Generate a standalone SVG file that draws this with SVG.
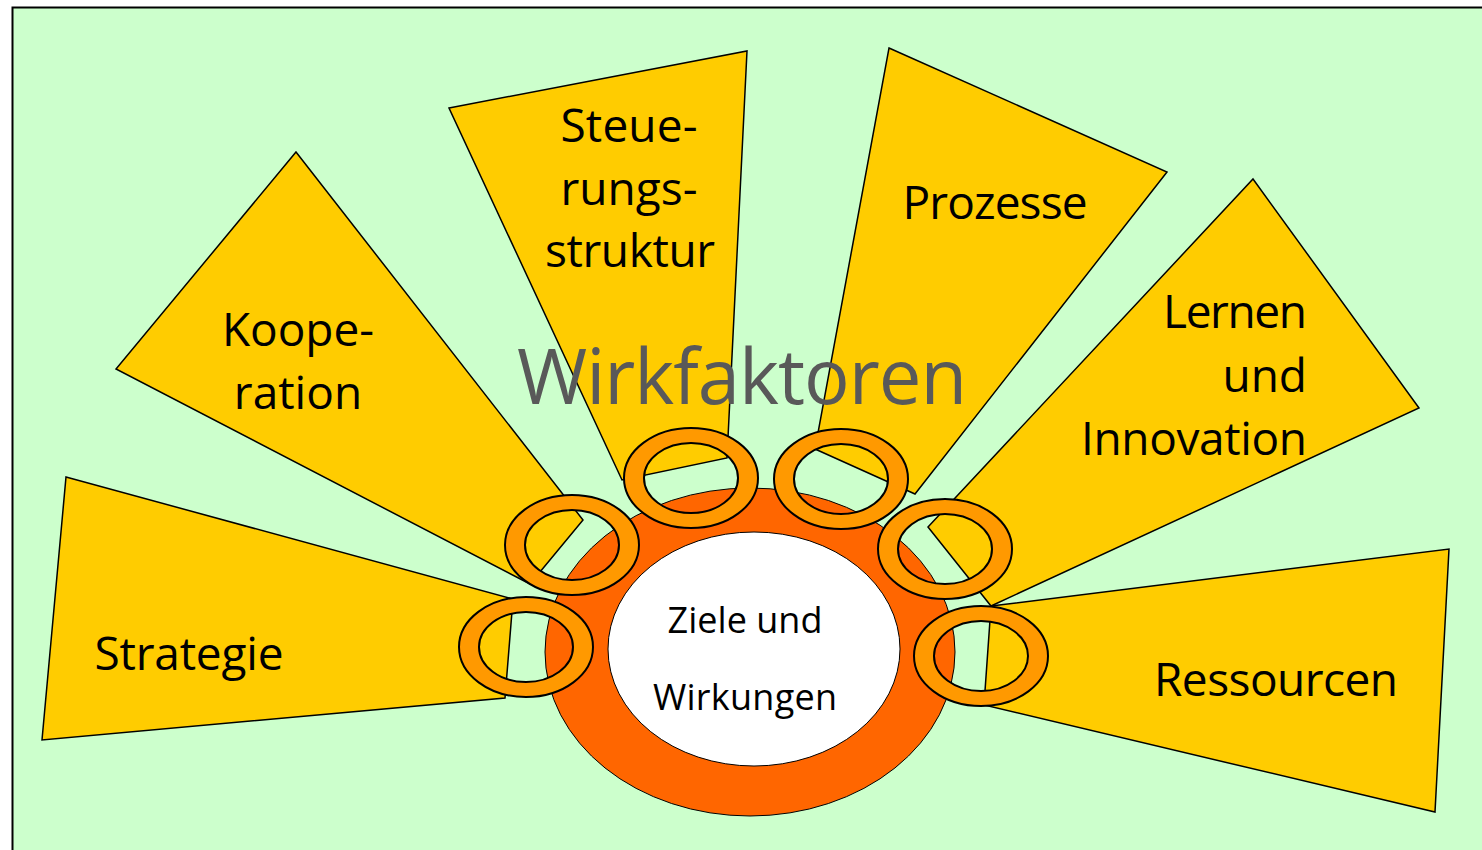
<svg xmlns="http://www.w3.org/2000/svg" xmlns:xlink="http://www.w3.org/1999/xlink" width="1482" height="850" viewBox="0 0 1482 850">
  <style>
    .wedge { fill: #FFCC00; stroke: #000; stroke-width: 1.5; stroke-linejoin: miter; }
    .lbl { font-family: "Open Sans", "Noto Sans", "Liberation Sans", sans-serif; font-size: 46px; fill: #000; }
    .core { font-family: "Open Sans", "Noto Sans", "Liberation Sans", sans-serif; font-size: 36px; fill: #000; text-anchor: middle; }
    .title { font-family: "Open Sans", "Noto Sans", "Liberation Sans", sans-serif; font-size: 76px; fill: #595959; }
    .ring { fill: #FF9900; fill-rule: evenodd; stroke: #000; stroke-width: 2; }
  </style>
  <defs>
    <!-- orange link ring, centred on the origin -->
    <path id="ring" class="ring" d="M -67,0 a 67,50 0 1,0 134,0 a 67,50 0 1,0 -134,0 Z M -47,0 a 47,35 0 1,0 94,0 a 47,35 0 1,0 -94,0 Z"/>
  </defs>

  <!-- canvas -->
  <rect x="12.5" y="7.5" width="1490" height="860" fill="#CCFFCC" stroke="#000" stroke-width="2"/>

  <!-- factor wedges -->
  <g id="strategie">
    <polygon class="wedge" points="66,477 513,599 505,698 42,740"/>
    <text class="lbl" x="189" y="670" text-anchor="middle" textLength="189">Strategie</text>
  </g>
  <g id="kooperation">
    <polygon class="wedge" points="296,152 583,520 530,584 116,369"/>
    <text class="lbl" x="298" y="346" text-anchor="middle" textLength="152">Koope-</text>
    <text class="lbl" x="298" y="409" text-anchor="middle">ration</text>
  </g>
  <g id="steuerungsstruktur">
    <polygon class="wedge" points="449,108 747,51 727,458 622,480"/>
    <text class="lbl" x="629" y="142" text-anchor="middle" textLength="137">Steue-</text>
    <text class="lbl" x="629" y="205" text-anchor="middle">rungs-</text>
    <text class="lbl" x="630" y="267" text-anchor="middle" textLength="170">struktur</text>
  </g>
  <g id="prozesse">
    <polygon class="wedge" points="889,48 1167,172 915,494 815,449"/>
    <text class="lbl" x="995" y="219" text-anchor="middle" textLength="185">Prozesse</text>
  </g>
  <g id="lernen">
    <polygon class="wedge" points="1253,179 1419,408 991,606 928,527"/>
    <text class="lbl" x="1307" y="328" text-anchor="end" textLength="144">Lernen</text>
    <text class="lbl" x="1307" y="392" text-anchor="end">und</text>
    <text class="lbl" x="1307" y="455" text-anchor="end" textLength="226">Innovation</text>
  </g>
  <g id="ressourcen">
    <polygon class="wedge" points="991,606 1449,549 1435,812 984,705"/>
    <text class="lbl" x="1276" y="696" text-anchor="middle" textLength="244">Ressourcen</text>
  </g>

  <!-- central goal -->
  <g id="ziele">
    <ellipse cx="750" cy="652" rx="205" ry="164" fill="#FF6600" stroke="#000" stroke-width="1"/>
    <ellipse cx="754" cy="649" rx="146" ry="117" fill="#FFFFFF" stroke="#000" stroke-width="1"/>
    <text class="core" x="745" y="633" textLength="155">Ziele und</text>
    <text class="core" x="745" y="710" textLength="184">Wirkungen</text>
  </g>

  <!-- heading -->
  <g id="wirkfaktoren">
    <text class="title" x="517" y="404" textLength="450">Wirkfaktoren</text>
  </g>

  <!-- connecting rings between wedges and goal -->
  <g id="connectors">
    <use xlink:href="#ring" x="526" y="647"/>
    <use xlink:href="#ring" x="572" y="545"/>
    <use xlink:href="#ring" x="691" y="478"/>
    <use xlink:href="#ring" x="841" y="479"/>
    <use xlink:href="#ring" x="945" y="549"/>
    <use xlink:href="#ring" x="981" y="656"/>
  </g>
</svg>
